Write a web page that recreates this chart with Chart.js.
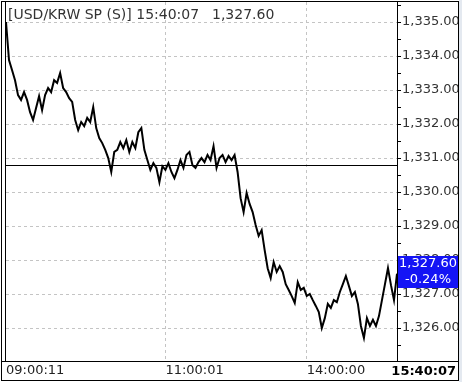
<!DOCTYPE html>
<html lang="ko">
<head>
<meta charset="UTF-8">
<title>USD/KRW SP</title>
<style>
  html, body { margin: 0; padding: 0; background: #fff; }
  canvas { display: block; }
</style>
</head>
<body>
<canvas id="fx" width="462" height="382"></canvas>
<script src="https://cdn.jsdelivr.net/npm/chart.js"></script>
<script>
// intraday USD/KRW spot
const prices = [
  1335.00, 1333.88, 1333.59, 1333.29, 1332.85, 1332.71, 1332.94, 1332.71, 1332.35, 1332.12,
  1332.47, 1332.82, 1332.41, 1332.85, 1333.06, 1332.94, 1333.29, 1333.21, 1333.50, 1333.06,
  1332.94, 1332.76, 1332.65, 1332.12, 1331.82, 1332.06, 1331.94, 1332.18, 1332.06, 1332.50,
  1331.88, 1331.59, 1331.44, 1331.24, 1331.00, 1330.59, 1331.18, 1331.24, 1331.47, 1331.29,
  1331.53, 1331.18, 1331.47, 1331.29, 1331.76, 1331.88, 1331.24, 1330.94, 1330.65, 1330.85,
  1330.71, 1330.29, 1330.76, 1330.65, 1330.85, 1330.59, 1330.41, 1330.65, 1330.94, 1330.71,
  1331.09, 1331.18, 1330.79, 1330.71, 1330.88, 1331.00, 1330.88, 1331.09, 1330.94, 1331.35,
  1330.71, 1331.00, 1331.09, 1330.88, 1331.06, 1330.94, 1331.09, 1330.59, 1329.82, 1329.41,
  1329.97, 1329.65, 1329.41, 1329.03, 1328.71, 1328.88, 1328.29, 1327.76, 1327.47, 1327.94,
  1327.65, 1327.82, 1327.65, 1327.29, 1327.12, 1326.94, 1326.74, 1327.35, 1327.12, 1327.18,
  1326.94, 1327.00, 1326.82, 1326.65, 1326.47, 1326.00, 1326.29, 1326.71, 1326.59, 1326.82,
  1326.76, 1327.06, 1327.29, 1327.53, 1327.24, 1326.94, 1327.06, 1326.71, 1326.06, 1325.71,
  1326.29, 1326.06, 1326.24, 1326.06, 1326.35, 1326.82, 1327.29, 1327.76, 1327.26, 1326.82,
  1327.60
];
const xTickIdx = [0, 53, 100];
const xTickLabels = ['09:00:11', '11:00:01', '14:00:00'];
const yMajor = [1326, 1327, 1328, 1329, 1330, 1331, 1332, 1333, 1334, 1335];
const yMinor = [1325.5, 1326.5, 1327.5, 1328.5, 1329.5, 1330.5, 1331.5, 1332.5, 1333.5, 1334.5, 1335.5];
const prevClose = 1330.79;
const lastPrice = 1327.60;
const changePct = '-0.24%';
const lastTime = '15:40:07';
const titleText = '[USD/KRW SP (S)] 15:40:07';

const FONT = '"DejaVu Sans", sans-serif';
const fmt = v => v.toLocaleString('en-US', { minimumFractionDigits: 2, maximumFractionDigits: 2 });

const decor = {
  id: 'decor',
  beforeDatasetsDraw(chart) {
    const { ctx, chartArea: a, scales: { y } } = chart;
    const py = Math.round(y.getPixelForValue(prevClose)) + 0.5;
    ctx.save();
    ctx.strokeStyle = '#000';
    ctx.lineWidth = 1;
    ctx.beginPath();
    ctx.moveTo(a.left, py);
    ctx.lineTo(a.right, py);
    ctx.stroke();
    ctx.restore();
  },
  afterDraw(chart) {
    const { ctx, scales: { y } } = chart;
    ctx.save();
    // clip strip on the right edge
    ctx.fillStyle = '#e4e9f0';
    ctx.fillRect(459, 0, 3, 382);

    // frame
    ctx.strokeStyle = '#000';
    ctx.lineWidth = 1;
    ctx.strokeRect(1.5, 1.5, 457, 379);
    ctx.beginPath();
    ctx.moveTo(5.5, 1.5); ctx.lineTo(5.5, 361.5);
    ctx.moveTo(1.5, 361.5); ctx.lineTo(458.5, 361.5);
    ctx.stroke();

    // title
    ctx.font = '14px ' + FONT;
    ctx.fillStyle = '#333';
    ctx.textBaseline = 'middle';
    ctx.textAlign = 'left';
    ctx.fillText(titleText, 8, 15);
    ctx.fillText(fmt(lastPrice), 212, 15);

    // last price box
    const by = Math.round(y.getPixelForValue(lastPrice)) - 2;
    ctx.fillStyle = '#1414f5';
    ctx.fillRect(398, by - 16, 60, 32);
    ctx.fillStyle = '#fff';
    ctx.font = '13px ' + FONT;
    ctx.textAlign = 'center';
    ctx.fillText(fmt(lastPrice), 428, by - 8);
    ctx.fillText(changePct, 428, by + 8);

    // current time
    ctx.font = 'bold 13px ' + FONT;
    ctx.fillStyle = '#000';
    ctx.textAlign = 'right';
    ctx.fillText(lastTime, 456, 371.5);
    ctx.restore();
  }
};

new Chart(document.getElementById('fx'), {
  type: 'line',
  data: {
    labels: prices.map((_, i) => i),
    datasets: [{
      data: prices,
      borderColor: '#000',
      borderWidth: 2,
      pointRadius: 0,
      tension: 0
    }]
  },
  options: {
    responsive: false,
    animation: false,
    devicePixelRatio: 1,
    layout: { padding: { left: 6, top: 2, right: 4, bottom: 1 } },
    plugins: { legend: { display: false }, tooltip: { enabled: false } },
    scales: {
      x: {
        type: 'linear',
        min: 0,
        max: prices.length - 1,
        afterBuildTicks: s => { s.ticks = xTickIdx.map(v => ({ value: v })); },
        afterFit: s => { s.height = 20; s.paddingLeft = 0; s.paddingRight = 0; },
        ticks: {
          autoSkip: false,
          maxRotation: 0,
          align: 'start',
          padding: 2,
          color: '#222',
          font: { family: FONT, size: 13 },
          callback: v => xTickLabels[xTickIdx.indexOf(v)]
        },
        grid: {
          drawTicks: false,
          color: c => (c.index === 0 ? 'transparent' : '#c4c4c4')
        },
        border: { display: false, dash: [3, 3] }
      },
      y: {
        position: 'right',
        min: 1325.03,
        max: 1335.59,
        afterBuildTicks: s => {
          s.ticks = yMajor.concat(yMinor).sort((a, b) => a - b).map(v => ({ value: v }));
        },
        afterFit: s => { s.width = 61; s.paddingTop = 0; s.paddingBottom = 0; },
        ticks: {
          autoSkip: false,
          padding: 1,
          color: '#333',
          font: { family: FONT, size: 13 },
          callback: v => (Number.isInteger(v) ? fmt(v) : '')
        },
        grid: {
          tickLength: 4,
          tickColor: '#000',
          color: c => (c.tick && Number.isInteger(c.tick.value) ? '#c4c4c4' : 'transparent')
        },
        border: { display: true, color: '#000', dash: [3, 3] }
      }
    }
  },
  plugins: [decor]
});
</script>
</body>
</html>
